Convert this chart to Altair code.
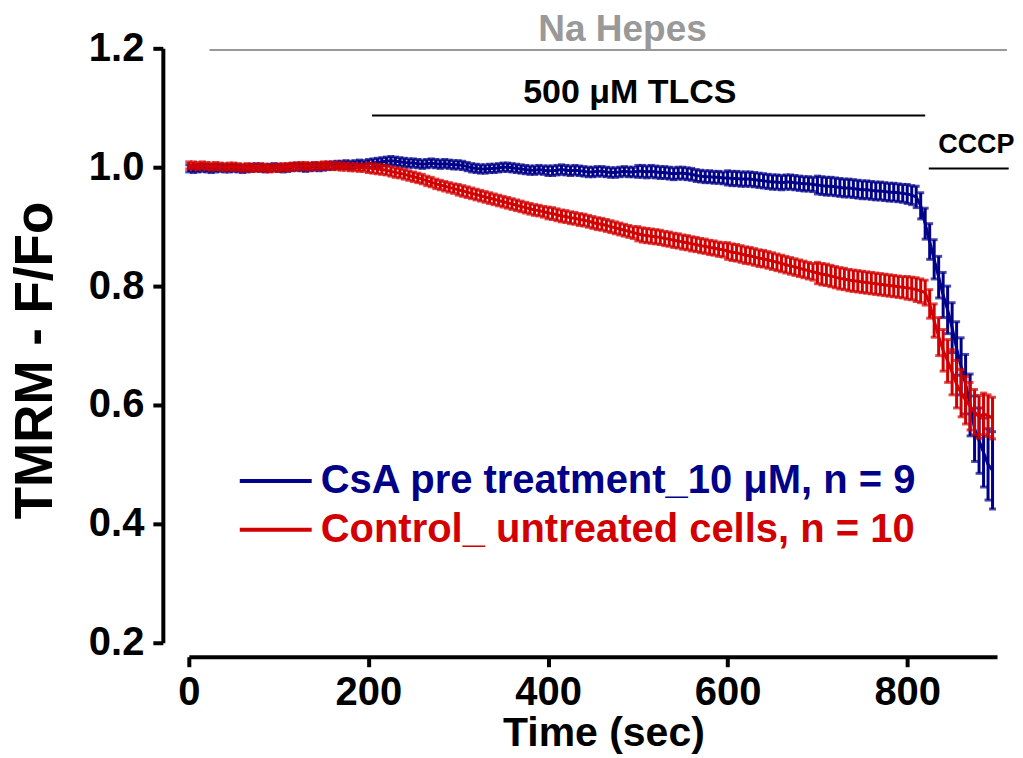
import altair as alt
import pandas as pd

# ---------------- data ----------------
times = list(range(0, 900, 5))  # sampling grid, seconds

csa_mean = [
    0.998, 0.997, 0.998, 0.999, 0.998, 0.997, 0.998, 0.999, 0.998, 0.998,
    0.999, 0.998, 0.997, 0.998, 0.999, 1.000, 0.999, 0.998, 0.999, 1.000,
    0.999, 0.998, 0.999, 1.000, 1.001, 1.000, 0.999, 1.000, 1.001, 1.000,
    1.001, 1.002, 1.003, 1.004, 1.004, 1.005, 1.004, 1.005, 1.006, 1.005,
    1.006, 1.007, 1.008, 1.009, 1.010, 1.011, 1.010, 1.009, 1.008, 1.007,
    1.007, 1.006, 1.005, 1.006, 1.007, 1.006, 1.005, 1.006, 1.005, 1.004,
    1.004, 1.003, 1.001, 0.999, 0.998, 0.997, 0.997, 0.998, 0.998, 0.999,
    1.000, 1.000, 0.999, 0.998, 0.997, 0.996, 0.995, 0.995, 0.996, 0.995,
    0.994, 0.994, 0.995, 0.996, 0.995, 0.994, 0.995, 0.994, 0.993, 0.992,
    0.992, 0.993, 0.993, 0.992, 0.991, 0.991, 0.992, 0.993, 0.992, 0.992,
    0.993, 0.993, 0.992, 0.993, 0.992, 0.991, 0.991, 0.990, 0.989, 0.990,
    0.990, 0.989, 0.988, 0.986, 0.985, 0.984, 0.984, 0.983, 0.983, 0.982,
    0.982, 0.981, 0.981, 0.980, 0.980, 0.980, 0.979, 0.978, 0.977, 0.976,
    0.975, 0.975, 0.974, 0.975, 0.975, 0.974, 0.973, 0.972, 0.972, 0.971,
    0.970, 0.969, 0.968, 0.968, 0.967, 0.966, 0.965, 0.965, 0.964, 0.963,
    0.962, 0.962, 0.961, 0.960, 0.960, 0.959, 0.958, 0.958, 0.957, 0.956,
    0.955, 0.953, 0.950, 0.935, 0.905, 0.875, 0.845, 0.815, 0.785, 0.760,
    0.730, 0.695, 0.665, 0.635, 0.600, 0.560, 0.540, 0.520, 0.500, 0.490,
]
csa_sem = [
    0.006, 0.006, 0.006, 0.006, 0.006, 0.006, 0.006, 0.006, 0.006, 0.006,
    0.006, 0.006, 0.006, 0.006, 0.006, 0.006, 0.006, 0.006, 0.006, 0.006,
    0.006, 0.006, 0.006, 0.006, 0.006, 0.006, 0.006, 0.006, 0.006, 0.006,
    0.006, 0.006, 0.006, 0.006, 0.006, 0.006, 0.006, 0.006, 0.006, 0.006,
    0.007, 0.007, 0.007, 0.007, 0.007, 0.007, 0.007, 0.007, 0.007, 0.007,
    0.007, 0.007, 0.007, 0.007, 0.007, 0.007, 0.007, 0.007, 0.007, 0.007,
    0.007, 0.007, 0.007, 0.007, 0.007, 0.007, 0.007, 0.007, 0.007, 0.007,
    0.007, 0.007, 0.007, 0.007, 0.007, 0.007, 0.007, 0.007, 0.007, 0.007,
    0.008, 0.008, 0.008, 0.008, 0.008, 0.008, 0.008, 0.008, 0.008, 0.008,
    0.008, 0.008, 0.008, 0.008, 0.008, 0.008, 0.008, 0.008, 0.008, 0.008,
    0.010, 0.010, 0.010, 0.010, 0.010, 0.010, 0.010, 0.010, 0.010, 0.010,
    0.010, 0.010, 0.010, 0.010, 0.010, 0.010, 0.010, 0.010, 0.010, 0.010,
    0.012, 0.012, 0.012, 0.012, 0.012, 0.012, 0.012, 0.012, 0.012, 0.012,
    0.012, 0.012, 0.012, 0.012, 0.012, 0.012, 0.012, 0.012, 0.012, 0.012,
    0.015, 0.015, 0.015, 0.015, 0.015, 0.015, 0.015, 0.015, 0.015, 0.015,
    0.015, 0.015, 0.015, 0.015, 0.015, 0.015, 0.015, 0.015, 0.015, 0.015,
    0.016, 0.016, 0.018, 0.022, 0.026, 0.030, 0.033, 0.035, 0.038, 0.040,
    0.042, 0.045, 0.048, 0.050, 0.052, 0.055, 0.055, 0.058, 0.060, 0.065,
]

ctrl_mean = [
    1.003, 1.003, 1.002, 1.003, 1.002, 1.001, 1.002, 1.001, 1.000, 1.001,
    1.001, 1.000, 0.999, 1.000, 0.999, 0.999, 1.000, 0.999, 0.998, 0.999,
    0.999, 1.000, 1.000, 1.001, 1.001, 1.002, 1.002, 1.001, 1.002, 1.002,
    1.003, 1.003, 1.002, 1.002, 1.001, 1.001, 1.000, 1.000, 0.999, 0.999,
    0.999, 0.998, 0.997, 0.996, 0.995, 0.993, 0.991, 0.990, 0.988, 0.986,
    0.984, 0.982, 0.980, 0.977, 0.975, 0.972, 0.970, 0.968, 0.966, 0.964,
    0.962, 0.960, 0.958, 0.956, 0.954, 0.952, 0.950, 0.948, 0.946, 0.944,
    0.942, 0.940, 0.938, 0.936, 0.934, 0.932, 0.930, 0.928, 0.927, 0.925,
    0.923, 0.922, 0.920, 0.918, 0.917, 0.915, 0.914, 0.912, 0.911, 0.909,
    0.907, 0.905, 0.904, 0.902, 0.900, 0.898, 0.896, 0.894, 0.892, 0.890,
    0.888, 0.886, 0.885, 0.884, 0.883, 0.882, 0.880, 0.879, 0.877, 0.876,
    0.874, 0.873, 0.871, 0.870, 0.868, 0.867, 0.865, 0.864, 0.862, 0.861,
    0.859, 0.857, 0.856, 0.854, 0.852, 0.851, 0.849, 0.847, 0.846, 0.844,
    0.842, 0.840, 0.838, 0.836, 0.834, 0.832, 0.830, 0.828, 0.826, 0.824,
    0.822, 0.820, 0.819, 0.817, 0.815, 0.813, 0.812, 0.810, 0.809, 0.808,
    0.807, 0.806, 0.805, 0.804, 0.803, 0.802, 0.801, 0.800, 0.799, 0.798,
    0.797, 0.796, 0.794, 0.792, 0.789, 0.770, 0.742, 0.715, 0.692, 0.674,
    0.655, 0.635, 0.620, 0.608, 0.598, 0.588, 0.580, 0.585, 0.582, 0.578,
]
ctrl_sem = [
    0.006, 0.006, 0.006, 0.006, 0.006, 0.006, 0.006, 0.006, 0.006, 0.006,
    0.006, 0.006, 0.006, 0.006, 0.006, 0.006, 0.006, 0.006, 0.006, 0.006,
    0.006, 0.006, 0.006, 0.006, 0.006, 0.006, 0.006, 0.006, 0.006, 0.006,
    0.006, 0.006, 0.006, 0.006, 0.006, 0.006, 0.006, 0.006, 0.006, 0.006,
    0.008, 0.008, 0.008, 0.008, 0.008, 0.008, 0.008, 0.008, 0.008, 0.008,
    0.008, 0.008, 0.008, 0.008, 0.008, 0.008, 0.008, 0.008, 0.008, 0.008,
    0.009, 0.009, 0.009, 0.009, 0.009, 0.009, 0.009, 0.009, 0.009, 0.009,
    0.009, 0.009, 0.009, 0.009, 0.009, 0.009, 0.009, 0.009, 0.009, 0.009,
    0.010, 0.010, 0.010, 0.010, 0.010, 0.010, 0.010, 0.010, 0.010, 0.010,
    0.010, 0.010, 0.010, 0.010, 0.010, 0.010, 0.010, 0.010, 0.010, 0.010,
    0.012, 0.012, 0.012, 0.012, 0.012, 0.012, 0.012, 0.012, 0.012, 0.012,
    0.012, 0.012, 0.012, 0.012, 0.012, 0.012, 0.012, 0.012, 0.012, 0.012,
    0.014, 0.014, 0.014, 0.014, 0.014, 0.014, 0.014, 0.014, 0.014, 0.014,
    0.014, 0.014, 0.014, 0.014, 0.014, 0.014, 0.014, 0.014, 0.014, 0.014,
    0.018, 0.018, 0.018, 0.018, 0.018, 0.018, 0.018, 0.018, 0.018, 0.018,
    0.018, 0.018, 0.018, 0.018, 0.018, 0.018, 0.018, 0.018, 0.018, 0.018,
    0.019, 0.019, 0.020, 0.020, 0.021, 0.024, 0.028, 0.032, 0.035, 0.036,
    0.038, 0.040, 0.040, 0.040, 0.040, 0.038, 0.036, 0.035, 0.035, 0.035,
]

series_names = ["CsA pre treatment_10 \u03bcM, n = 9", "Control_ untreated cells, n = 10"]
series_colors = ["#000088", "#D20000"]

# treatment periods (bars above the traces)
period_labels = ["Na Hepes", "500 \u03bcM TLCS", "CCCP"]
period_start = [23, 204, 824]
period_end = [911, 820, 913]
period_level = [1.197, 1.087, 0.998]
label_time = [483, 491, 877]
label_level = [1.213, 1.108, 1.024]

# ---------------- tables ----------------
rows = []
for name, means, sems in [(series_names[0], csa_mean, csa_sem), (series_names[1], ctrl_mean, ctrl_sem)]:
    for t, m, s in zip(times, means, sems):
        rows.append({"t": t, "mean": m, "lo": m - s, "hi": m + s, "series": name})
df = pd.DataFrame(rows)

periods = pd.DataFrame({
    "label": period_labels, "start": period_start, "end": period_end,
    "level": period_level, "lt": label_time, "ll": label_level,
})

FONT = "Liberation Sans, Arial, Helvetica, sans-serif"

xscale = alt.Scale(domain=[0, 900], nice=False, zero=False)
yscale = alt.Scale(domain=[0.2, 1.2], nice=False, zero=False)
cscale = alt.Scale(domain=series_names, range=series_colors)

xaxis = alt.Axis(values=[0, 200, 400, 600, 800], offset=14, labelPadding=6,
                 labelFlush=False, title="Time (sec)", titleFontSize=41,
                 titleX=415, titleY=89, titleBaseline="alphabetic", titleAlign="center")
yaxis = alt.Axis(values=[0.2, 0.4, 0.6, 0.8, 1.0, 1.2], format=".1f", offset=26,
                 labelPadding=9, labelFlush=False, title="TMRM - F/Fo", titleFontSize=53,
                 titleX=-111, titleY=312, titleBaseline="alphabetic", titleAlign="center",
                 titleAngle=270)

legend = alt.Legend(
    title=None, orient="none", legendX=67, legendY=413,
    symbolType="M-2,0L2,0", symbolSize=1296, symbolStrokeWidth=4,
    symbolFillColor="transparent", symbolOpacity=1,
    labelFontSize=40, labelFont=FONT, labelFontWeight="bold", labelLimit=1000,
    labelOffset=25, rowPadding=9, padding=0,
    labelColor=alt.ExprRef(
        expr="datum.value == 'Control_ untreated cells, n = 10' ? '#D20000' : '#000088'"),
)
color_enc = alt.Color("series:N", scale=cscale, legend=legend)


def series_layers(name):
    base = alt.Chart(df).transform_filter(alt.datum.series == name)
    err = base.mark_errorbar(ticks={"size": 7, "thickness": 3}, thickness=3).encode(
        x=alt.X("t:Q", scale=xscale, axis=xaxis),
        y=alt.Y("lo:Q", scale=yscale, axis=yaxis),
        y2="hi:Q",
        color=color_enc,
    )
    line = base.mark_line(strokeWidth=3).encode(
        x=alt.X("t:Q", scale=xscale, axis=xaxis),
        y=alt.Y("mean:Q", scale=yscale, axis=yaxis),
        color=color_enc,
    )
    return [err, line]


def period_layers(idx, color, rule_width, font_size):
    base = alt.Chart(periods).transform_filter(alt.datum.label == period_labels[idx])
    rule = base.mark_rule(color=color, strokeWidth=rule_width).encode(
        x=alt.X("start:Q", scale=xscale), x2="end:Q", y=alt.Y("level:Q", scale=yscale))
    text = base.mark_text(color=color, fontSize=font_size, font=FONT, fontWeight="bold",
                          align="center", baseline="alphabetic").encode(
        x=alt.X("lt:Q", scale=xscale), y=alt.Y("ll:Q", scale=yscale), text="label:N")
    return [rule, text]


layers = []
layers += series_layers(series_names[0])
layers += series_layers(series_names[1])
layers += period_layers(0, "#999999", 2, 37)
layers += period_layers(1, "#000000", 2, 34)
layers += period_layers(2, "#000000", 2, 27)

chart = alt.layer(*layers).properties(
    width=809, height=595,
    autosize=alt.AutoSizeParams(type="none"),
    padding={"left": 189, "top": 48, "right": 26, "bottom": 115},
).configure_view(stroke=None).configure_axis(
    grid=False, domainColor="black", domainWidth=4, tickColor="black", tickWidth=4,
    tickSize=10, labelFont=FONT, labelFontWeight="bold", labelFontSize=40,
    labelColor="black", titleFont=FONT, titleFontWeight="bold", titleColor="black",
)

chart.save("out.html", embed_options={"renderer": "svg", "actions": False})
